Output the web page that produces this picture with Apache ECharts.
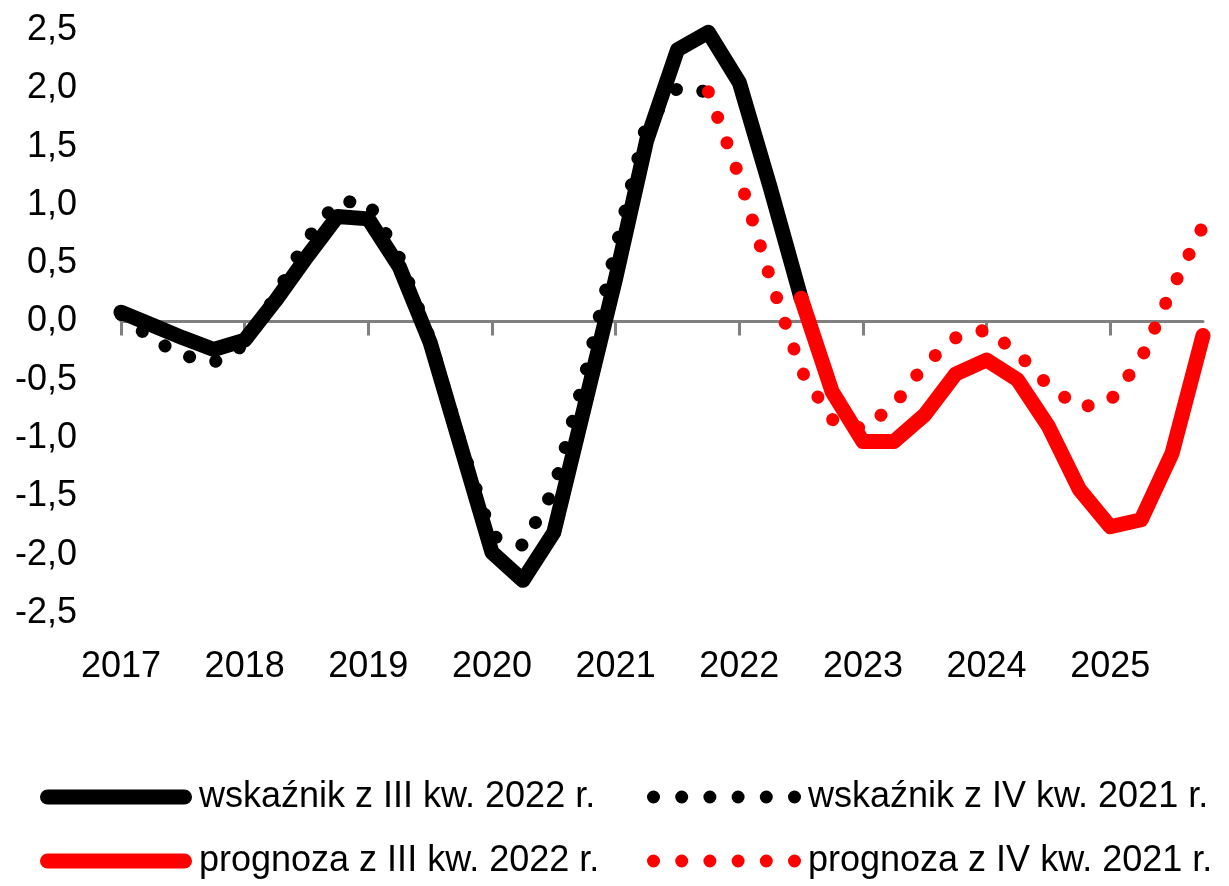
<!DOCTYPE html>
<html>
<head>
<meta charset="utf-8">
<title>wskaźnik</title>
<script src="https://cdn.jsdelivr.net/npm/echarts@6/dist/echarts.min.js"></script>
<style>
  html, body { margin: 0; padding: 0; background: #fff; }
  #chart { width: 1229px; height: 886px; }
</style>
</head>
<body>
<div id="chart"></div>
<script>
// dane kwartalne 2017 I kw. - 2025 IV kw.
const years = [2017, 2018, 2019, 2020, 2021, 2022, 2023, 2024, 2025]
const quarters = ['I', 'II', 'III', 'IV']

// wskaźnik z III kw. 2022 r. (do III kw. 2022)
const indexQ3_2022 = [0.08, -0.03, -0.14, -0.24, -0.16, 0.18, 0.55, 0.9, 0.88, 0.47, -0.18, -1.08,
  -1.98, -2.22, -1.81, -0.72, 0.37, 1.55, 2.33, 2.48, 2.05, 1.15, 0.2,
  null, null, null, null, null, null, null, null, null, null, null, null, null]
// prognoza z III kw. 2022 r.
const forecastQ3_2022 = [null, null, null, null, null, null, null, null, null, null, null, null,
  null, null, null, null, null, null, null, null, null, null, 0.2,
  -0.6, -1.03, -1.03, -0.8, -0.45, -0.33, -0.5, -0.9, -1.44, -1.76, -1.7, -1.13, -0.12]
// wskaźnik z IV kw. 2021 r.
const indexQ4_2021 = [0.06, -0.15, -0.29, -0.35, -0.2, 0.22, 0.7, 1.03, 1.02, 0.55, -0.15, -1.05,
  -1.84, -1.92, -1.44, -0.47, 0.62, 1.7, 2.0, 1.97,
  null, null, null, null, null, null, null, null, null, null, null, null, null, null, null, null]
// prognoza z IV kw. 2021 r.
const forecastQ4_2021 = [null, null, null, null, null, null, null, null, null, null, null, null,
  null, null, null, null, null, null, null, 1.97,
  1.24, 0.37, -0.42, -0.84, -0.92, -0.72, -0.37, -0.14, -0.07, -0.27, -0.55, -0.74, -0.68, -0.32, 0.28, 0.82]

const yTicks = { min: -2.5, max: 2.5, step: 0.5 }

let categories = []
years.forEach(y => quarters.forEach(q => categories.push(y + ' ' + q)))

// ikonki legendy
const solidIcon = 'path://M7.5,0 L144.5,0 A7.5,7.5 0 0 1 144.5,15 L7.5,15 A7.5,7.5 0 0 1 7.5,0 Z'
let dotsPath = ''
for (let k = 0; k < 6; k++) {
  const cx = 6.5 + k * 28.2
  dotsPath += 'M' + (cx - 6.5) + ',6.5 A6.5,6.5 0 1 1 ' + (cx + 6.5) + ',6.5 A6.5,6.5 0 1 1 ' + (cx - 6.5) + ',6.5 Z '
}
const dotsIcon = 'path://' + dotsPath

const axisFont = "'Liberation Sans', Arial, sans-serif"
const legendFont = "'Liberation Sans', Arial, sans-serif"

// jedna legenda na pozycję, żeby kolumny były równo
function legendItem(name, left, top, dotted) {
  return {
    orient: 'horizontal',
    left: left,
    top: top,
    itemWidth: dotted ? 154 : 152,
    itemHeight: dotted ? 13 : 15,
    icon: dotted ? dotsIcon : solidIcon,
    itemStyle: { borderWidth: 0 },
    textStyle: { fontFamily: legendFont, fontSize: 36, color: '#000', lineHeight: 40, padding: [0, 0, 0, 2] },
    selectedMode: false,
    data: [name]
  }
}

const chart = echarts.init(document.getElementById('chart'))

let option = {
  animation: false,
  backgroundColor: '#fff',
  grid: {
    left: 121,
    right: 26,
    top: 30,
    bottom: 273
  },
  legend: [
    legendItem('wskaźnik z III kw. 2022 r.', 35, 772, false),
    legendItem('prognoza z III kw. 2022 r.', 35, 836, false),
    legendItem('wskaźnik z IV kw. 2021 r.', 642, 772, true),
    legendItem('prognoza z IV kw. 2021 r.', 642, 836, true)
  ],
  xAxis: [{
    type: 'category',
    data: categories,
    boundaryGap: false,
    position: 'bottom',
    axisLine: { show: false, onZero: false },
    axisTick: { show: false },
    splitLine: { show: false },
    axisLabel: {
      interval: 3,
      margin: 36,
      fontFamily: axisFont,
      fontSize: 36,
      color: '#000',
      formatter: function (v) { return v.split(' ')[0] }
    }
  }, {
    type: 'category',
    data: categories,
    boundaryGap: false,
    position: 'bottom',
    axisLine: {
      show: true,
      onZero: true,
      lineStyle: { color: '#808080', width: 3 }
    },
    axisTick: {
      show: true,
      interval: 3,
      length: 14,
      lineStyle: { color: '#808080', width: 3 }
    },
    axisLabel: { show: false },
    splitLine: { show: false }
  }],
  yAxis: {
    type: 'value',
    min: yTicks.min,
    max: yTicks.max,
    interval: yTicks.step,
    axisLine: { show: false },
    axisTick: { show: false },
    splitLine: { show: false },
    axisLabel: {
      margin: 44,
      fontFamily: axisFont,
      fontSize: 36,
      color: '#000',
      formatter: function (v) { return v.toFixed(1).replace('.', ',') }
    }
  },
  series: [{
    name: 'wskaźnik z IV kw. 2021 r.',
    type: 'line',
    data: indexQ4_2021,
    showSymbol: false,
    symbol: 'none',
    itemStyle: { color: '#000' },
    lineStyle: { color: '#000', width: 13, type: [0.1, 27], cap: 'round', join: 'round' },
    z: 2
  }, {
    name: 'prognoza z IV kw. 2021 r.',
    type: 'line',
    data: forecastQ4_2021,
    showSymbol: false,
    symbol: 'none',
    itemStyle: { color: '#ff0000' },
    lineStyle: { color: '#ff0000', width: 13, type: [0.1, 27], cap: 'round', join: 'round' },
    z: 2
  }, {
    name: 'wskaźnik z III kw. 2022 r.',
    type: 'line',
    data: indexQ3_2022,
    showSymbol: false,
    symbol: 'none',
    itemStyle: { color: '#000' },
    lineStyle: { color: '#000', width: 15, cap: 'round', join: 'round' },
    z: 3
  }, {
    name: 'prognoza z III kw. 2022 r.',
    type: 'line',
    data: forecastQ3_2022,
    showSymbol: false,
    symbol: 'none',
    itemStyle: { color: '#ff0000' },
    lineStyle: { color: '#ff0000', width: 15, cap: 'round', join: 'round' },
    z: 4
  }]
}
chart.setOption(option)
</script>
</body>
</html>
